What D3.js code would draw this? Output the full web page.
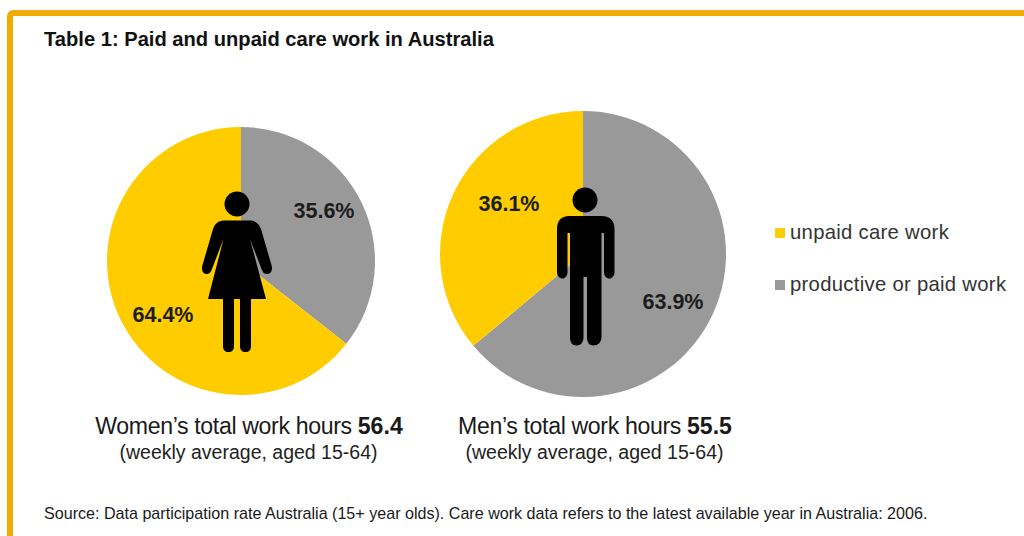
<!DOCTYPE html>
<html>
<head>
<meta charset="utf-8">
<script src="https://cdn.jsdelivr.net/npm/d3@7"></script>
<style>
html,body{margin:0;padding:0;background:#fff;overflow:hidden}
svg{display:block;font-family:"Liberation Sans",Arial,sans-serif}
</style>
</head>
<body>
<svg id="chart" width="1024" height="536"></svg>
<script>
const titleText = "Table 1: Paid and unpaid care work in Australia";
const sourceText = "Source: Data participation rate Australia (15+ year olds). Care work data refers to the latest available year in Australia: 2006.";
const categories = ["productive or paid work", "unpaid care work"];
const legendOrder = ["unpaid care work", "productive or paid work"];
const womenValues = [35.6, 64.4];
const menValues = [63.9, 36.1];
const womenHours = 56.4;
const menHours = 55.5;
const subCaption = "(weekly average, aged 15-64)";

const colour = d3.scaleOrdinal().domain(categories).range(["#999999", "#ffcc00"]);
const svg = d3.select("#chart");

// Orange frame, open on the right and at the bottom
svg.append("path")
  .attr("d", "M10,536V17Q10,13 14,13H1024")
  .attr("fill", "none").attr("stroke", "#f2ab00").attr("stroke-width", 6);

svg.append("text").attr("x", 44).attr("y", 46)
  .attr("font-size", 20.15).attr("font-weight", 700).attr("fill", "#111")
  .text(titleText);

const pie = d3.pie().sort(null);

function drawPie(values, cx, cy, r) {
  const g = svg.append("g").attr("transform", `translate(${cx},${cy})`);
  const arc = d3.arc().innerRadius(0).outerRadius(r);
  g.selectAll("path").data(pie(values)).join("path")
    .attr("d", arc)
    .attr("fill", (d, i) => colour(categories[i]));
  return g;
}

function valueLabels(values, positions) {
  svg.selectAll(null).data(values).enter().append("text")
    .attr("x", (d, i) => positions[i][0])
    .attr("y", (d, i) => positions[i][1])
    .attr("text-anchor", "middle")
    .attr("font-size", 21.5).attr("font-weight", 700).attr("fill", "#1c1c1c")
    .text(d => d.toFixed(1) + "%");
}

drawPie(womenValues, 241, 261, 134);
drawPie(menValues, 583, 254, 143);

// Pictogram of a woman
const woman = svg.append("g").attr("fill", "#000");
woman.append("circle").attr("cx", 237).attr("cy", 204).attr("r", 12.5);
woman.append("path").attr("d",
  "M224,220.5H250C256,220.5 259,224 261,229L271.5,265C273,270 271,274 267,274" +
  "C264,274 262.5,272 261.5,269L250,239L266,299H251V346C251,350 249,352 245.5,352" +
  "C242,352 240,350 240,346V299H234V346C234,350 232,352 228.500,352" +
  "C225,352 223,350 223,346V299H208L223.500,239L212,269C211,272 209.500,274 206.500,274" +
  "C203,274 201,270 202.500,265L213,229C215,224 218,220.500 224,220.500Z");

// Pictogram of a man
const man = svg.append("g").attr("fill", "#000");
man.append("circle").attr("cx", 585).attr("cy", 200).attr("r", 12.5);
man.append("path").attr("d",
  "M569,216H602C610,216 614.500,221 614.500,229V272C614.500,276 612,278.500 609.500,278.500" +
  "C606.500,278.500 604,276 604,272V233H601.500V337C601.500,342 598,345.500 593.500,345.500" +
  "C589,345.500 587,342 587,337V277H583.500V337C583.500,342 581,345.500 576.500,345.500" +
  "C572,345.500 570,342 570,337V233H567.500V272C567.500,276 565,278.500 562.500,278.500" +
  "C559.500,278.500 557,276 557,272V229C557,221 561,216 569,216Z");

valueLabels(womenValues, [[324, 218], [163, 322]]);
valueLabels(menValues, [[673, 309], [509, 211]]);

// Captions below each pie
function caption(x, y, lead, hours) {
  const t = svg.append("text").attr("x", x).attr("y", y)
    .attr("text-anchor", "middle").attr("font-size", 23.1).attr("fill", "#1a1a1a");
  t.append("tspan").attr("letter-spacing", -0.35).text(lead + "\u00a0");
  t.append("tspan").attr("font-weight", 700).text(hours.toFixed(1));
  svg.append("text").attr("x", x - 0.5).attr("y", y + 24.5)
    .attr("text-anchor", "middle").attr("font-size", 19.5).attr("fill", "#222")
    .text(subCaption);
}
caption(249, 434, "Women’s total work hours", womenHours);
caption(595, 434, "Men’s total work hours", menHours);

// Legend
const legendY = d3.scalePoint().domain(legendOrder).range([233, 285]);
const legend = svg.selectAll(".legend").data(legendOrder).join("g").attr("class", "legend")
  .attr("transform", d => `translate(775,${legendY(d)})`);
legend.append("rect").attr("x", 0).attr("y", -5).attr("width", 10).attr("height", 10)
  .attr("fill", d => colour(d));
legend.append("text").attr("x", 15).attr("y", 6).attr("font-size", 20.3)
  .attr("letter-spacing", 0.29).attr("fill", "#333").text(d => d);

svg.append("text").attr("x", 44).attr("y", 519)
  .attr("font-size", 16.1).attr("fill", "#1a1a1a").text(sourceText);
</script>
</body>
</html>
